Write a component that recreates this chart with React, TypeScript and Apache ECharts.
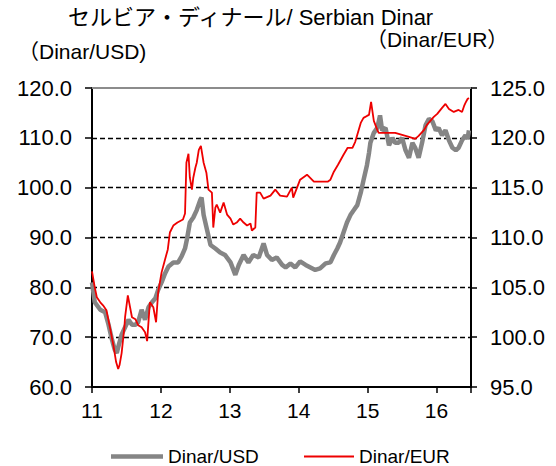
import React, { useEffect, useRef } from "react";
import * as echarts from "echarts";

const TITLE = "セルビア・ディナール/ Serbian Dinar";
const LEFT_AXIS_NAME = "（Dinar/USD)";
const RIGHT_AXIS_NAME = "（Dinar/EUR）";
const USD_NAME = "Dinar/USD";
const EUR_NAME = "Dinar/EUR";

const usdYears = [
  11.0, 11.04, 11.12, 11.19, 11.24, 11.29, 11.33, 11.36, 11.38, 11.43, 11.48, 11.53,
  11.58, 11.63, 11.67, 11.72, 11.77, 11.82, 11.87, 11.92, 11.96, 12.01, 12.06, 12.11,
  12.18, 12.25, 12.3, 12.35, 12.38, 12.42, 12.47, 12.52, 12.57, 12.59, 12.62, 12.67,
  12.72, 12.79, 12.86, 12.93, 13.01, 13.08, 13.13, 13.2, 13.27, 13.34, 13.42, 13.49,
  13.54, 13.61, 13.68, 13.76, 13.81, 13.88, 13.95, 14.02, 14.1, 14.17, 14.24, 14.31,
  14.39, 14.46, 14.51, 14.56, 14.6, 14.65, 14.7, 14.75, 14.8, 14.85, 14.9, 14.94,
  14.99, 15.02, 15.04, 15.09, 15.14, 15.18, 15.21, 15.26, 15.31, 15.36, 15.4, 15.45,
  15.5, 15.55, 15.6, 15.65, 15.69, 15.74, 15.79, 15.84, 15.89, 15.94, 15.99, 16.03,
  16.08, 16.13, 16.18, 16.23, 16.28, 16.32, 16.37, 16.42, 16.45, 16.47,
];
const usdValues = [
  81.0, 77.0, 75.5, 75.0, 72.5, 69.5, 67.5, 66.8, 68.0, 70.5, 72.0, 73.5,
  72.5, 72.5, 73.0, 75.5, 73.5, 76.0, 77.0, 77.8, 79.5, 81.0, 82.8, 84.2,
  85.0, 85.0, 86.2, 87.8, 89.8, 93.0, 94.0, 95.5, 97.5, 98.0, 94.5, 91.5,
  88.5, 87.8, 87.0, 86.5, 85.0, 82.5, 84.5, 86.5, 85.0, 86.5, 86.0, 88.8,
  86.5, 85.5, 86.0, 84.5, 84.0, 84.8, 84.0, 85.2, 84.5, 84.0, 83.5, 83.8,
  84.8, 85.0, 86.5, 87.8, 89.0, 91.0, 93.0, 94.5, 95.5, 96.5, 99.0, 101.5,
  104.5, 107.0, 109.0, 111.0, 112.0, 114.5, 111.5, 112.0, 108.5, 110.0, 109.0, 109.0,
  110.0, 107.5, 106.0, 109.0, 108.0, 106.0, 109.0, 112.5, 113.8, 113.3, 111.5, 112.0,
  110.5, 111.5, 109.5, 108.0, 107.5, 108.0, 109.5, 110.5, 109.8, 111.5,
];

const eurYears = [
  11.0, 11.04, 11.07, 11.12, 11.16, 11.21, 11.26, 11.31, 11.35, 11.38, 11.4, 11.43,
  11.47, 11.48, 11.52, 11.58, 11.63, 11.67, 11.72, 11.77, 11.8, 11.84, 11.89, 11.93,
  11.96, 12.01, 12.06, 12.1, 12.13, 12.18, 12.24, 12.32, 12.35, 12.37, 12.4, 12.42,
  12.45, 12.47, 12.5, 12.52, 12.55, 12.58, 12.62, 12.66, 12.69, 12.74, 12.76, 12.79,
  12.81, 12.86, 12.91, 12.96, 13.01, 13.05, 13.1, 13.15, 13.2, 13.25, 13.3, 13.32,
  13.37, 13.39, 13.44, 13.49, 13.59, 13.66, 13.73, 13.83, 13.9, 13.92, 14.02, 14.12,
  14.22, 14.31, 14.42, 14.46, 14.51, 14.57, 14.65, 14.71, 14.78, 14.82, 14.9, 14.94,
  14.99, 15.02, 15.05, 15.09, 15.14, 15.16, 15.21, 15.31, 15.4, 15.5, 15.6, 15.69,
  15.74, 15.82, 15.86, 15.91, 15.96, 16.01, 16.08, 16.13, 16.18, 16.25, 16.32, 16.37,
  16.4, 16.42, 16.45, 16.47,
];
const eurValues = [
  106.6, 105.0, 104.0, 103.5, 103.2, 102.7, 101.0, 99.2, 97.5, 96.8, 97.2, 98.4,
  101.0, 102.0, 104.2, 102.0, 101.8, 101.2, 101.0, 100.5, 99.6, 103.5, 103.0, 101.5,
  104.5, 106.5, 107.8, 108.8, 110.5, 111.2, 111.5, 111.8, 112.4, 117.5, 118.4, 116.0,
  114.8, 116.0, 117.0, 117.5, 118.8, 119.2, 117.5, 116.5, 114.8, 114.5, 111.0, 113.0,
  113.3, 112.5, 113.5, 112.3, 111.9, 111.3, 111.5, 111.9, 111.5, 111.2, 111.4, 110.7,
  111.0, 114.5, 114.5, 113.9, 114.2, 114.8, 114.2, 114.1, 115.0, 114.0, 115.8, 116.3,
  115.6, 115.6, 115.6, 115.8, 116.6, 117.3, 118.3, 119.0, 119.0, 119.6, 121.5, 122.0,
  122.2, 122.3, 123.6, 121.7, 120.8, 120.5, 120.5, 120.5, 120.5, 120.3, 120.1, 119.9,
  120.2, 120.8, 121.3, 121.7, 122.1, 122.4, 123.0, 123.4, 122.9, 122.6, 122.8, 122.6,
  123.2, 123.5, 123.9, 124.0,
];

const xTickYears = [11, 12, 13, 14, 15, 16];

const FONT = "'Liberation Sans', Arial, 'Noto Sans CJK JP', sans-serif";

export default function App() {
  const ref = useRef<HTMLDivElement>(null);

  useEffect(() => {
    if (!ref.current) return;
    const chart = echarts.init(ref.current, null, { renderer: "svg" });
    const usdData = usdYears.map((y, i) => [y, usdValues[i]]);
    const eurData = eurYears.map((y, i) => [y, eurValues[i]]);

    chart.setOption({
      animation: false,
      backgroundColor: "#ffffff",
      textStyle: { fontFamily: FONT },
      grid: { left: 92, right: 85, top: 88, bottom: 79 },
      graphic: [
        {
          type: "text",
          left: 68,
          top: 6,
          style: { text: TITLE, font: `22px ${FONT}`, fill: "#000" },
        },
        {
          type: "text",
          left: 18,
          top: 41,
          style: { text: LEFT_AXIS_NAME, font: `21px ${FONT}`, fill: "#000" },
        },
        {
          type: "text",
          left: 366,
          top: 29,
          style: { text: RIGHT_AXIS_NAME, font: `21px ${FONT}`, fill: "#000" },
        },
      ],
      legend: [
        {
          data: [{ name: USD_NAME, icon: "rect" }],
          left: 106,
          top: 442,
          itemWidth: 52,
          itemHeight: 4.5,
          textStyle: { fontSize: 19, color: "#000", fontFamily: FONT },
        },
        {
          data: [{ name: EUR_NAME, icon: "rect" }],
          left: 299,
          top: 442,
          itemWidth: 50,
          itemHeight: 2,
          textStyle: { fontSize: 19, color: "#000", fontFamily: FONT },
        },
      ],
      xAxis: [
        {
          type: "value",
          min: 11,
          max: 16.5,
          interval: 1,
          axisLine: { show: true, onZero: false, lineStyle: { color: "#000", width: 2 } },
          axisTick: { show: true, length: 6, lineStyle: { color: "#000", width: 1.5 } },
          axisLabel: {
            fontSize: 21,
            color: "#000",
            fontFamily: FONT,
            margin: 13,
            formatter: (v: number) => (xTickYears.includes(v) ? String(v) : ""),
          },
          splitLine: { show: false },
        },
        {
          type: "value",
          position: "top",
          min: 11,
          max: 16.5,
          interval: 1,
          axisLine: { show: true, onZero: false, lineStyle: { color: "#8c8c8c", width: 2 } },
          axisTick: { show: false },
          axisLabel: { show: false },
          splitLine: { show: false },
        },
      ],
      yAxis: [
        {
          type: "value",
          position: "left",
          min: 60,
          max: 120,
          interval: 10,
          axisLine: { show: true, onZero: false, lineStyle: { color: "#000", width: 2 } },
          axisTick: { show: true, length: 7, lineStyle: { color: "#000", width: 1.5 } },
          axisLabel: {
            fontSize: 22,
            color: "#000",
            fontFamily: FONT,
            margin: 20,
            formatter: (v: number) => v.toFixed(1),
          },
          splitLine: {
            show: true,
            showMinLine: false,
            showMaxLine: false,
            lineStyle: { color: "#000", width: 1.4, type: [5, 3] },
          },
        },
        {
          type: "value",
          position: "right",
          min: 95,
          max: 125,
          interval: 5,
          axisLine: { show: true, onZero: false, lineStyle: { color: "#000", width: 2 } },
          axisTick: { show: true, length: 6, lineStyle: { color: "#000", width: 1.5 } },
          axisLabel: {
            fontSize: 22,
            color: "#000",
            fontFamily: FONT,
            margin: 19,
            formatter: (v: number) => v.toFixed(1),
          },
          splitLine: { show: false },
        },
      ],
      series: [
        {
          name: USD_NAME,
          type: "line",
          xAxisIndex: 0,
          yAxisIndex: 0,
          data: usdData,
          showSymbol: false,
          symbol: "none",
          color: "#858585",
          lineStyle: { color: "#858585", width: 4.5 },
          z: 2,
        },
        {
          name: EUR_NAME,
          type: "line",
          xAxisIndex: 0,
          yAxisIndex: 1,
          data: eurData,
          showSymbol: false,
          symbol: "none",
          color: "#ee0000",
          lineStyle: { color: "#ee0000", width: 1.8 },
          z: 3,
        },
      ],
    });

    return () => chart.dispose();
  }, []);

  return <div ref={ref} style={{ width: 556, height: 466, position: "absolute", left: 0, top: 0 }} />;
}
